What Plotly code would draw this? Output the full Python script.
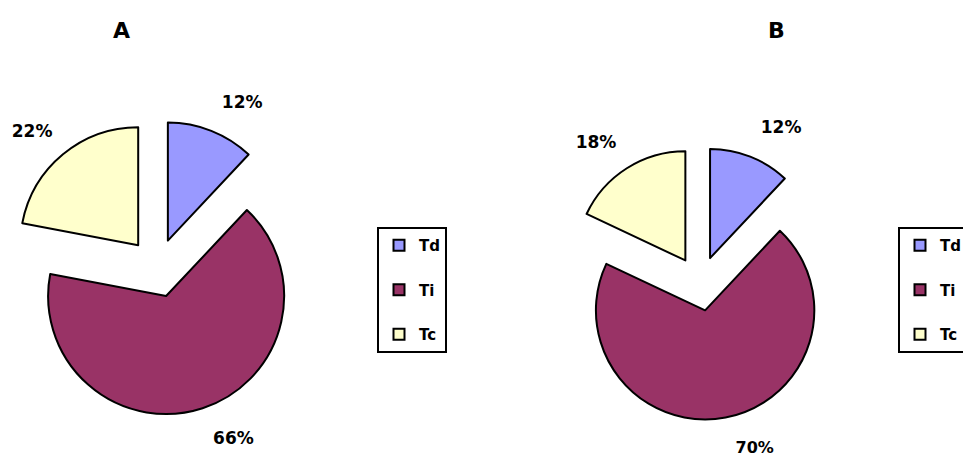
import plotly.graph_objects as go

labels = ["Td", "Ti", "Tc"]
values_a = [12, 66, 22]
values_b = [12, 70, 18]
colors = ["#9999FF", "#993366", "#FFFFCC"]
titles = ["A", "B"]

W, H = 971, 457
OFF = 8  # page body margin offset
FONT = "DejaVu Sans"

def px_dom_x(a, b):
    return [(a - OFF) / W, (b - OFF) / W]

def px_dom_y(top, bottom):
    return [1 - (bottom - OFF) / H, 1 - (top - OFF) / H]

def px_x(x):
    return (x - OFF) / W

def px_y(y):
    return 1 - (y - OFF) / H

fig = go.Figure()

NB = "\u00a0"
tmpl = ["%{percent:.0%}<br>" + NB, NB + "<br>%{percent:.0%}", "%{percent:.0%}<br>" + NB]

def pie_kwargs(sizes):
    return dict(
        labels=labels,
        sort=False,
        direction="clockwise",
        rotation=0,
        pull=[0.25, 0.25, 0.25],
        marker=dict(colors=colors, line=dict(color="black", width=2)),
        texttemplate=tmpl,
        textposition="outside",
        textfont=dict(family=FONT, size=sizes, color="black", weight="bold"),
        showlegend=False,
        hoverinfo="label+percent",
    )

# Pie A: center ~ (157, 268), r ~ 118
fig.add_trace(go.Pie(values=values_a,
                     domain=dict(x=px_dom_x(9.5, 304.5), y=px_dom_y(120.5, 415.5)),
                     **pie_kwargs([17, 17, 17])))
# Pie B: center ~ (700, 284), r ~ 109
fig.add_trace(go.Pie(values=values_b,
                     domain=dict(x=px_dom_x(563.5, 836.5), y=px_dom_y(147, 420)),
                     **pie_kwargs([17, 16, 17])))

# legend entries (square swatches) for both panels
for leg in ["legend", "legend2"]:
    for lab, col in zip(labels, colors):
        fig.add_trace(go.Scatter(
            x=[None], y=[None], mode="markers", name=lab,
            marker=dict(symbol="square", size=11, color=col,
                        line=dict(color="black", width=2)),
            legend=leg, legendgroup=f"{leg}_{lab}", showlegend=True,
            hoverinfo="skip",
        ))

legend_style = dict(
    bgcolor="white", bordercolor="black", borderwidth=2,
    font=dict(family=FONT, size=15, color="black", weight="bold"),
    tracegroupgap=22, orientation="v",
    xanchor="left", yanchor="top", itemclick=False, itemdoubleclick=False,
)

fig.update_layout(
    width=W, height=H,
    margin=dict(l=0, r=0, t=0, b=0, autoexpand=False),
    paper_bgcolor="white", plot_bgcolor="white",
    xaxis=dict(visible=False), yaxis=dict(visible=False),
    legend=dict(x=px_x(377), y=px_y(227), **legend_style),
    legend2=dict(x=px_x(898), y=px_y(227), **legend_style),
    annotations=[
        dict(text=titles[0], x=px_x(121), y=px_y(30), xref="paper", yref="paper",
             xanchor="center", yanchor="middle", showarrow=False,
             font=dict(family=FONT, size=22, color="black", weight="bold")),
        dict(text=titles[1], x=px_x(776), y=px_y(30), xref="paper", yref="paper",
             xanchor="center", yanchor="middle", showarrow=False,
             font=dict(family=FONT, size=22, color="black", weight="bold")),
    ],
)

fig.write_html("out.html")
